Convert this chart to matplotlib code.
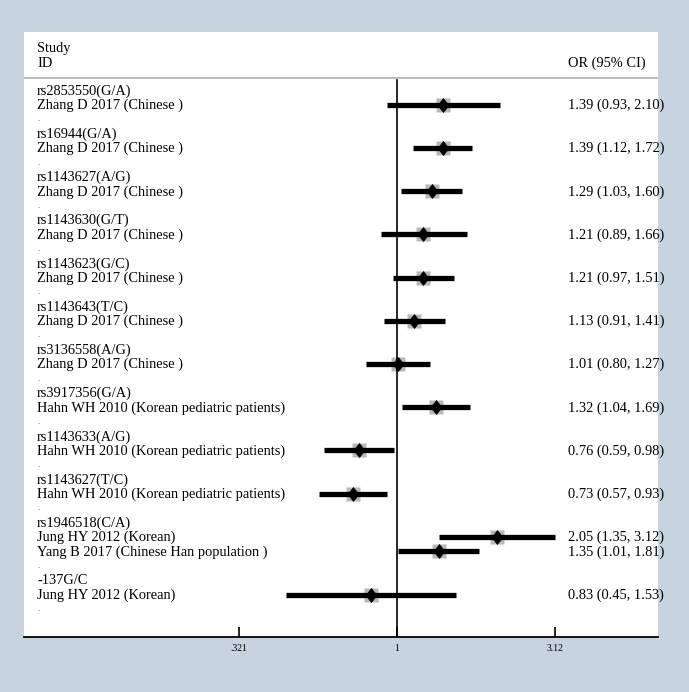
import numpy as np
import matplotlib
matplotlib.use("Agg")
import matplotlib.pyplot as plt
from matplotlib.path import Path
from matplotlib.ticker import FixedLocator, FixedFormatter

snps = ["rs2853550(G/A)", "rs16944(G/A)", "rs1143627(A/G)", "rs1143630(G/T)",
        "rs1143623(G/C)", "rs1143643(T/C)", "rs3136558(A/G)", "rs3917356(G/A)",
        "rs1143633(A/G)", "rs1143627(T/C)", "rs1946518(C/A)", "-137G/C"]
studies = [["Zhang D 2017 (Chinese )"]] * 7 + \
    [["Hahn WH 2010 (Korean pediatric patients)"]] * 3 + \
    [["Jung HY 2012 (Korean)", "Yang B 2017 (Chinese Han population )"],
     ["Jung HY 2012 (Korean)"]]
ors = [[1.39], [1.39], [1.29], [1.21], [1.21], [1.13], [1.01], [1.32], [0.76], [0.73],
       [2.05, 1.35], [0.83]]
lows = [[0.93], [1.12], [1.03], [0.89], [0.97], [0.91], [0.80], [1.04], [0.59], [0.57],
        [1.35, 1.01], [0.45]]
highs = [[2.10], [1.72], [1.60], [1.66], [1.51], [1.41], [1.27], [1.69], [0.98], [0.93],
         [3.12, 1.81], [1.53]]
tick_vals = [0.321, 1, 3.12]
tick_labels = [".321", "1", "3.12"]

bg = "#c7d3df"
serif = "Liberation Serif"
fs = 10.4
diamond = Path([(0, 1), (0.8, 0), (0, -1), (-0.8, 0), (0, 1)],
               [Path.MOVETO, Path.LINETO, Path.LINETO, Path.LINETO, Path.CLOSEPOLY])

fig = plt.figure(figsize=(6.89, 6.92), dpi=100, facecolor=bg)
ax = fig.add_axes([24 / 689, 1 - 637 / 692, 634 / 689, 605 / 692])
ax.set_facecolor("white")
ax.set_xscale("log")
# pixel x = 397 + 138.9 * ln(x)
ax.set_xlim(np.exp((24 - 397) / 138.9), np.exp((658 - 397) / 138.9))
ax.set_ylim(37.9, -4.1)

tx = ax.get_yaxis_transform()  # x in axes coords, y in data
lx = (37 - 24) / 634
rx = (568 - 24) / 634

ax.text(lx, -2.95, "Study", transform=tx, family=serif, fontsize=fs, va="center")
ax.text(lx, -1.9, "ID", transform=tx, family=serif, fontsize=fs, va="center")
ax.text(rx, -1.9, "OR (95% CI)", transform=tx, family=serif, fontsize=fs, va="center")
ax.axhline(-0.9, color="#b0b0b0", lw=1.2)

r = 0
for snp, st, o, lo, hi in zip(snps, studies, ors, lows, highs):
    ax.text(lx, r, snp, transform=tx, family=serif, fontsize=fs, va="center")
    r += 1
    for s, oo, l, h in zip(st, o, lo, hi):
        ax.text(lx, r, s, transform=tx, family=serif, fontsize=fs, va="center")
        ax.text(rx, r, f"{oo:.2f} ({l:.2f}, {h:.2f})", transform=tx, family=serif,
                fontsize=fs, va="center", clip_on=False)
        ax.plot([l, h], [r - 0.05, r - 0.05], color="black", lw=3.8,
                solid_capstyle="butt", zorder=3)
        ax.plot(oo, r - 0.05, marker="s", ms=9.5, color="#b8b8b8", mec="none", zorder=2)
        ax.plot(oo, r - 0.05, marker=diamond, ms=10, color="black", mec="black",
                mew=0.5, zorder=4)
        r += 1
    ax.text(lx, r + 0.1, ".", transform=tx, family=serif, fontsize=6, va="baseline",
            color="#555555")
    r += 1

ax.axvline(1, ymin=0, ymax=(37.9 - (-0.8)) / (37.9 + 4.1), color="black", lw=1.2)

for side in ["top", "left", "right"]:
    ax.spines[side].set_visible(False)
ax.spines["bottom"].set_linewidth(1.3)
ax.set_yticks([])
ax.xaxis.set_major_locator(FixedLocator(tick_vals))
ax.xaxis.set_major_formatter(FixedFormatter(tick_labels))
ax.xaxis.set_minor_locator(FixedLocator([]))
ax.tick_params(axis="x", direction="in", length=7, width=1.2, labelsize=7, pad=5)
for t in ax.get_xticklabels():
    t.set_family(serif)

fig.savefig("out.png", dpi=100, facecolor=bg)
